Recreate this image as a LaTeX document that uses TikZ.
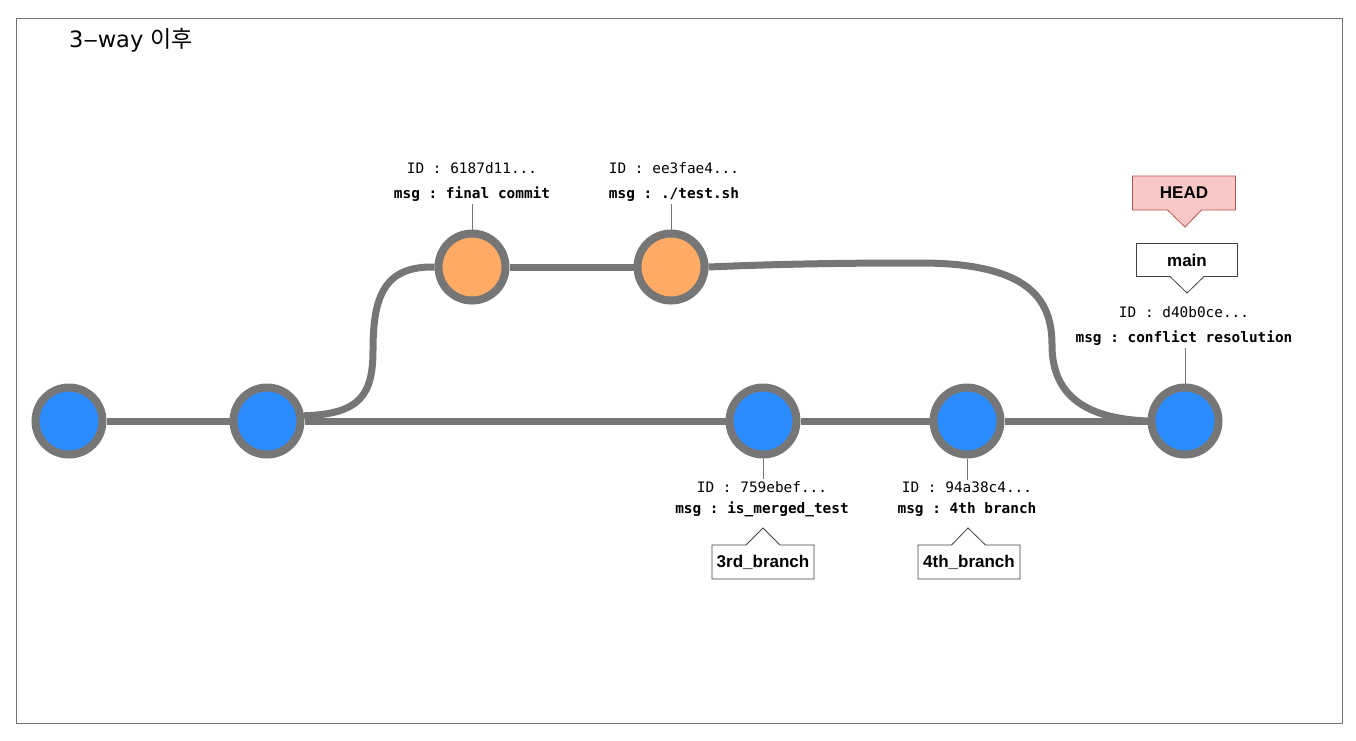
\documentclass[tikz,border=0pt]{standalone}
\usepackage{fontspec}
\usetikzlibrary{shapes.callouts}
\newfontfamily\monofont{DejaVu Sans Mono}
\newfontfamily\boxfont{Liberation Sans}
\newfontfamily\titlefont{DejaVu Sans}
\newfontfamily\kofont{Noto Sans CJK KR}
\definecolor{edgegray}{HTML}{767676}
\definecolor{commitblue}{HTML}{2B8CFF}
\definecolor{commitorange}{HTML}{FFAB66}
\definecolor{headfill}{HTML}{F8C8C8}
\definecolor{headline}{HTML}{B85450}
\frenchspacing

\begin{document}
\begin{tikzpicture}[x=1pt, y=1pt]
\tikzset{commit/.style={draw=edgegray, circle, line width=8pt, minimum size=67pt, inner sep=0pt, fill=commitblue}}
\tikzset{sidecommit/.style={commit, fill=commitorange}}
\tikzset{edge/.style={draw=edgegray, line width=7pt}}
\tikzset{tick/.style={draw=edgegray, line width=1pt}}
\tikzset{info/.style={font={\monofont\fontsize{14.4}{25}\selectfont}, align=center, inner sep=2pt}}
\tikzset{infobelow/.style={info, font={\monofont\fontsize{14.4}{20.5}\selectfont}}}
\tikzset{branchbox/.style={rectangle callout, draw=black!75, fill=white, line width=0.8pt, font={\boxfont\bfseries\fontsize{17}{20}\selectfont}, minimum width=102pt, minimum height=34pt, inner sep=1pt, callout pointer width=34pt}}
\useasboundingbox (0,0) rectangle (1356,-740);
\draw[draw=black!55, line width=1pt] (16,-18) rectangle (1342,-723);
\node[anchor=base west, inner sep=0pt] (title) at (69,-47) {\titlefont\fontsize{22.5}{26}\selectfont 3‒way \kofont\fontsize{23}{26}\selectfont 이후};
\node[commit] (c1) at (69,-421) {};
\node[commit] (c2) at (267,-421) {};
\node[sidecommit] (c3) at (472,-267) {};
\node[sidecommit] (c4) at (671,-267) {};
\node[commit] (c5) at (763,-421) {};
\node[commit] (c6) at (967,-421) {};
\node[commit] (c7) at (1185,-421) {};
\node[info] (i3) at (472,-182) {ID : 6187d11...\\\bfseries msg : final commit};
\node[info] (i4) at (674,-182) {ID : ee3fae4...\\\bfseries msg : ./test.sh};
\node[infobelow] (i5) at (762,-499) {ID : 759ebef...\\\bfseries msg : is\_merged\_test};
\node[infobelow] (i6) at (967,-499) {ID : 94a38c4...\\\bfseries msg : 4th branch};
\node[info] (i7) at (1184,-326) {ID : d40b0ce...\\\bfseries msg : conflict resolution};
\node[branchbox, callout absolute pointer={(763,-528)}] (b3) at (763,-562) {3rd\_branch};
\node[branchbox, callout absolute pointer={(968,-528)}] (b4) at (969,-562) {4th\_branch};
\node[branchbox, callout absolute pointer={(1187,-293)}, minimum width=101pt, minimum height=33pt] (bmain) at (1187,-260) {main};
\node[branchbox, callout absolute pointer={(1185,-227)}, minimum width=103pt, fill=headfill, draw=headline] (bhead) at (1184,-193) {HEAD};
\draw[edge] (c1) -- (c2);
\draw[edge] (c2) -- (c5);
\draw[edge] (c5) -- (c6);
\draw[edge] (c6) -- (c7);
\draw[edge] (c3) -- (c4);
\draw[edge] (c2.8) .. controls (360,-414) and (373,-395) .. (373,-350) .. controls (373,-295) and (385,-266) .. (c3.west);
\draw[edge] (c4.east) .. controls (800,-263) and (880,-263) .. (920,-263) .. controls (1030,-263) and (1052,-300) .. (1052,-345) .. controls (1052,-405) and (1100,-419) .. (c7.west);
\draw[tick] (c3.north) -- (c3.north |- i3.south);
\draw[tick] (c4.north) -- (c4.north |- i4.south);
\draw[tick] (c5.south) -- (c5.south |- i5.north);
\draw[tick] (c6.south) -- (c6.south |- i6.north);
\draw[tick] (c7.north) -- (c7.north |- i7.south);
\end{tikzpicture}
\end{document}
